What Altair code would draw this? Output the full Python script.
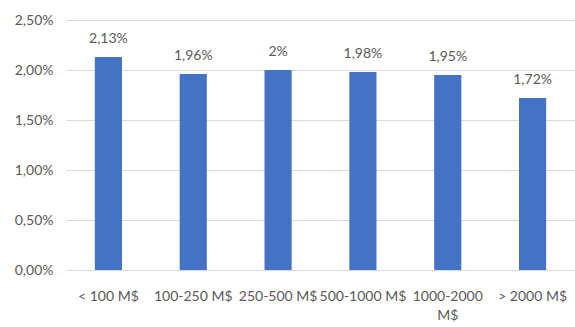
import altair as alt
import pandas as pd

categories = ["< 100 M$", "100-250 M$", "250-500 M$", "500-1000 M$", "1000-2000 M$", "> 2000 M$"]
values = [0.0213, 0.0196, 0.0200, 0.0198, 0.0195, 0.0172]
y_ticks = [0, 0.005, 0.01, 0.015, 0.02, 0.025]

df = pd.DataFrame({"cat": categories, "val": values})

FONT = "Lato"
GREY = "#595959"

x = alt.X(
    "cat:N",
    sort=categories,
    title=None,
    scale=alt.Scale(paddingInner=0.68, paddingOuter=0.34),
    axis=alt.Axis(
        labelAngle=0,
        labelFont=FONT,
        labelFontSize=14,
        labelColor=GREY,
        labelPadding=19,
        labelLineHeight=19,
        ticks=False,
        domain=False,
        labelExpr="datum.label == '1000-2000 M$' ? ['1000-2000', 'M$'] : datum.label",
    ),
)

y = alt.Y(
    "val:Q",
    title=None,
    scale=alt.Scale(domain=[0, 0.025], nice=False),
    axis=alt.Axis(
        values=y_ticks,
        labelExpr="replace(format(datum.value, '.2%'), '.', ',')",
        labelFont=FONT,
        labelFontSize=14,
        labelColor=GREY,
        labelPadding=13,
        ticks=False,
        domain=False,
        grid=True,
        gridColor="#d9d9d9",
        gridWidth=1,
    ),
)

bars = alt.Chart(df).mark_bar(color="#4472C4").encode(x=x, y=y)

labels = (
    alt.Chart(df)
    .transform_calculate(lbl="replace(format(datum.val, '.2~%'), '.', ',')")
    .mark_text(font=FONT, fontSize=14, color=GREY, baseline="bottom", dy=-11)
    .encode(x=alt.X("cat:N", sort=categories), y="val:Q", text="lbl:N")
)

chart = (
    alt.layer(bars, labels)
    .properties(
        width=509,
        height=250,
        autosize=alt.AutoSizeParams(type="none"),
        padding={"left": 66, "top": 20, "right": 0, "bottom": 57},
        background="white",
    )
    .configure_view(stroke=None)
)

chart.save("out.html", embed_options={"renderer": "svg", "actions": False})
